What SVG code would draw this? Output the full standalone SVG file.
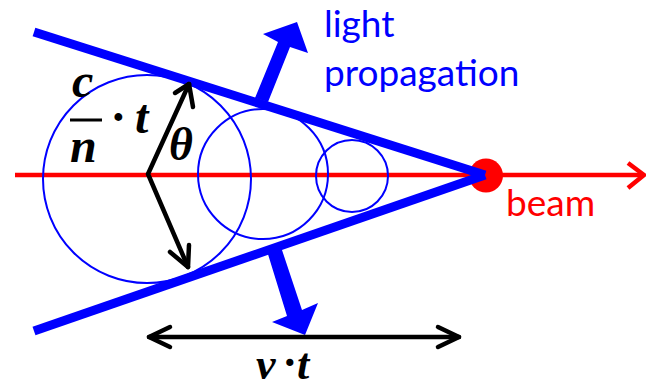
<svg xmlns="http://www.w3.org/2000/svg" width="646" height="390" viewBox="0 0 646 390">
<style>
.circ{fill:none;stroke:#0000ff;stroke-width:2}
.cone{stroke:#0000ff;stroke-width:9;stroke-linecap:butt}
.blk{fill:none;stroke:#000;stroke-width:4.5;stroke-linecap:round;stroke-linejoin:round}
.red{fill:none;stroke:#ff0000;stroke-width:4.5}
.math{font-family:"Liberation Serif","Times New Roman",serif;font-weight:bold;font-style:italic;fill:#000}
.lab{font-family:Lato,"Liberation Sans",sans-serif;font-size:37px}
</style>
<rect width="646" height="390" fill="#fff"/>
<g id="connectors">
  <g id="beam-line">
    <line class="red" x1="15" y1="175" x2="643" y2="175"/>
    <polyline class="red" points="628,163 644,175 628,188" stroke-linejoin="miter"/>
  </g>
  <circle id="beam-dot" cx="486" cy="175.5" r="17" fill="#ff0000"/>
  <g id="wavefronts">
    <circle class="circ" cx="147" cy="179" r="104"/>
    <circle class="circ" cx="263" cy="174" r="65"/>
    <circle class="circ" cx="352" cy="176" r="36"/>
  </g>
  <g id="cone">
    <line class="cone" x1="34" y1="32" x2="485" y2="175"/>
    <line class="cone" x1="34" y1="331" x2="485" y2="175"/>
  </g>
  <g id="propagation-arrows" fill="#0000ff">
    <polygon points="255,98 278,42 263,34 297,22 308,53 290,47 268,102"/>
    <polygon points="267,251 287,316 272,322 305,335 318,303 302,310 281,247"/>
  </g>
  <g id="radius-arrows">
    <polyline class="blk" points="189,84 148,174 188,267"/>
    <polyline class="blk" points="175,93 189,84 193,107"/>
    <polyline class="blk" points="170,252 188,267 189,245"/>
  </g>
  <g id="vt-arrow">
    <line class="blk" x1="149" y1="337" x2="459" y2="337"/>
    <polyline class="blk" points="170,327 149,337 170,347"/>
    <polyline class="blk" points="438,327 459,337 438,347"/>
  </g>
</g>
<g id="label-cnt">
  <text class="math" x="72" y="97" font-size="48">c</text>
  <rect x="70" y="118.5" width="32" height="3" fill="#000"/>
  <text class="math" x="70" y="162" font-size="48">n</text>
  <text class="math" x="112" y="133" font-size="48">·</text>
  <text class="math" x="135" y="133" font-size="48">t</text>
</g>
<g id="label-theta">
  <text class="math" x="169" y="160" font-size="46">θ</text>
</g>
<g id="label-vt">
  <text class="math" x="256" y="379" font-size="44">v</text>
  <text class="math" x="284" y="377" font-size="44">·</text>
  <text class="math" x="297" y="379" font-size="44">t</text>
</g>
<g id="label-light" fill="#0000ff">
  <text class="lab" x="324" y="37">light</text>
  <text class="lab" x="324" y="86">propagation</text>
</g>
<g id="label-beam" fill="#ff0000">
  <text class="lab" x="506" y="216">beam</text>
</g>
</svg>
